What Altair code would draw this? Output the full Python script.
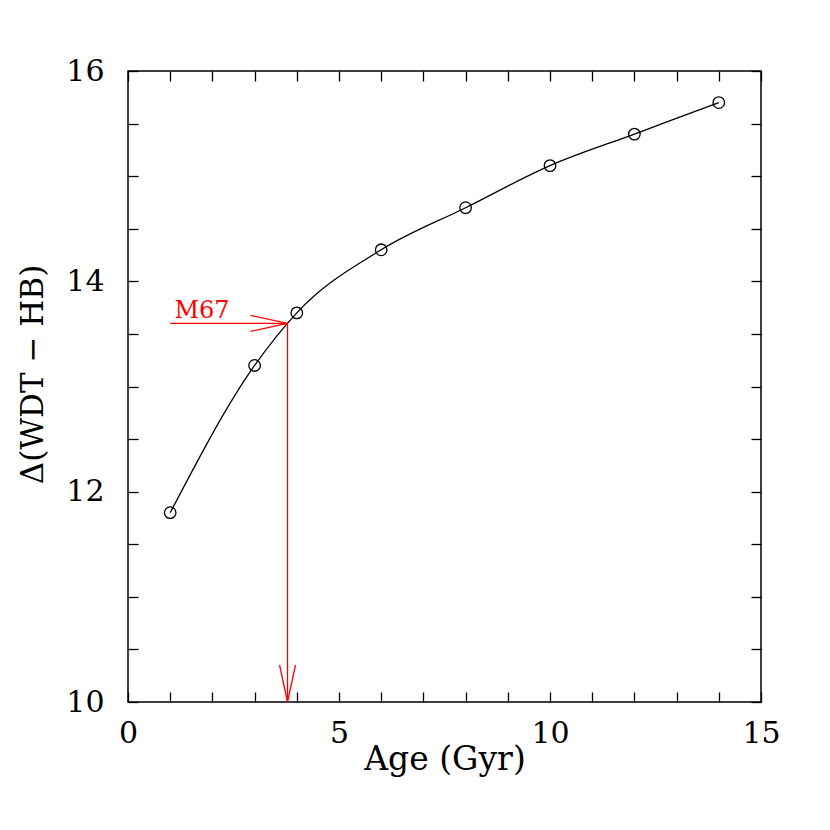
import altair as alt
import pandas as pd

# Data
age = [1, 3, 4, 6, 8, 10, 12, 14]
delta = [11.8, 13.2, 13.7, 14.3, 14.7, 15.1, 15.4, 15.7]

# M67 arrow annotation
m67_age = 3.78
m67_delta = 13.6
m67_h_x = [1.0, m67_age]          # horizontal arrow from x=1 to the curve
m67_h_y = [m67_delta, m67_delta]
m67_v_x = [m67_age, m67_age]      # vertical arrow down to the x axis
m67_v_y = [m67_delta, 10.0]
m67_label = "M67"
m67_label_x = 1.1
m67_label_y = 13.65

x_label_ticks = [0, 5, 10, 15]
x_minor_ticks = list(range(0, 16))
y_label_ticks = [10, 12, 14, 16]
y_minor_ticks = [10 + 0.5 * i for i in range(13)]

W, H = 633, 631
FONT = "DejaVu Serif"

df = pd.DataFrame({"age": age, "delta": delta})
dh = pd.DataFrame({"x": m67_h_x, "y": m67_h_y})
dv = pd.DataFrame({"x": m67_v_x, "y": m67_v_y})
dtip_h = pd.DataFrame({"x": [m67_h_x[1]], "y": [m67_h_y[1]]})
dtip_v = pd.DataFrame({"x": [m67_v_x[1]], "y": [m67_v_y[1]]})
dlab = pd.DataFrame({"x": [m67_label_x], "y": [m67_label_y], "t": [m67_label]})

xs = alt.Scale(domain=[0, 15], nice=False, zero=False)
ys = alt.Scale(domain=[10, 16], nice=False, zero=False)

def no_axis_x(field):
    return alt.X(field, type="quantitative", scale=xs, axis=None)

def no_axis_y(field):
    return alt.Y(field, type="quantitative", scale=ys, axis=None)

# Main curve with labelled axes (no ticks)
line = alt.Chart(df).mark_line(interpolate="monotone", color="black", strokeWidth=1.3).encode(
    x=alt.X("age:Q", scale=xs, title="Age (Gyr)",
            axis=alt.Axis(orient="bottom", values=x_label_ticks, ticks=False, domain=False,
                          grid=False, labelFont=FONT, labelFontSize=30, labelColor="black",
                          labelPadding=16, labelFlush=False,
                          titleFont=FONT, titleFontSize=33, titleFontWeight="normal",
                          titleColor="black", titleY=67, titleBaseline="alphabetic")),
    y=alt.Y("delta:Q", scale=ys, title="Δ(WDT − HB)",
            axis=alt.Axis(orient="left", values=y_label_ticks, ticks=False, domain=False,
                          grid=False, labelFont=FONT, labelFontSize=30, labelColor="black",
                          labelPadding=24, labelFlush=False,
                          titleFont=FONT, titleFontSize=31, titleFontWeight="normal",
                          titleColor="black", titleX=-86, titleY=303,
                          titleBaseline="alphabetic")),
)

# Points, plus inward ticks on bottom and left edges
points = alt.Chart(df).mark_point(shape="circle", filled=False, size=133, color="black",
                                  strokeWidth=1.3, opacity=1).encode(
    x=alt.X("age:Q", scale=xs, title="",
            axis=alt.Axis(orient="top", offset=-H, values=x_minor_ticks, labels=False,
                          domain=False, grid=False, ticks=True, tickSize=10,
                          tickColor="black", tickWidth=1.3)),
    y=alt.Y("delta:Q", scale=ys, title="",
            axis=alt.Axis(orient="right", offset=-W, values=y_minor_ticks, labels=False,
                          domain=False, grid=False, ticks=True, tickSize=10,
                          tickColor="black", tickWidth=1.3)),
)

# Horizontal arrow line, plus inward ticks on top and right edges
hline = alt.Chart(dh).mark_line(color="red", strokeWidth=1.3).encode(
    x=alt.X("x:Q", scale=xs, title="",
            axis=alt.Axis(orient="bottom", offset=-H, values=x_minor_ticks, labels=False,
                          domain=False, grid=False, ticks=True, tickSize=10,
                          tickColor="black", tickWidth=1.3)),
    y=alt.Y("y:Q", scale=ys, title="",
            axis=alt.Axis(orient="left", offset=-W, values=y_minor_ticks, labels=False,
                          domain=False, grid=False, ticks=True, tickSize=10,
                          tickColor="black", tickWidth=1.3)),
)

vline = alt.Chart(dv).mark_line(color="red", strokeWidth=1.3).encode(
    x=no_axis_x("x"), y=no_axis_y("y"), order=alt.Order("y:Q", sort="descending"))

head_h = alt.Chart(dtip_h).mark_point(shape="M-1,-0.216L0,0L-1,0.216", filled=False,
                                      size=5476, color="red", strokeWidth=1.3, opacity=1).encode(
    x=no_axis_x("x"), y=no_axis_y("y"))

head_v = alt.Chart(dtip_v).mark_point(shape="M-0.216,-1L0,0L0.216,-1", filled=False,
                                      size=5476, color="red", strokeWidth=1.3, opacity=1).encode(
    x=no_axis_x("x"), y=no_axis_y("y"))

label = alt.Chart(dlab).mark_text(align="left", baseline="alphabetic", font=FONT,
                                  fontSize=24, color="red").encode(
    x=no_axis_x("x"), y=no_axis_y("y"), text="t:N")

chart = alt.layer(line, points, hline, vline, head_h, head_v, label).resolve_axis(
    x="independent", y="independent"
).properties(
    width=W, height=H,
    autosize=alt.AutoSizeParams(type="none"),
    padding={"left": 120, "top": 63, "right": 40, "bottom": 110},
    background="white",
).configure_view(stroke="black", strokeWidth=1.5)

chart.save("out.html", embed_options={"renderer": "svg", "actions": False})
